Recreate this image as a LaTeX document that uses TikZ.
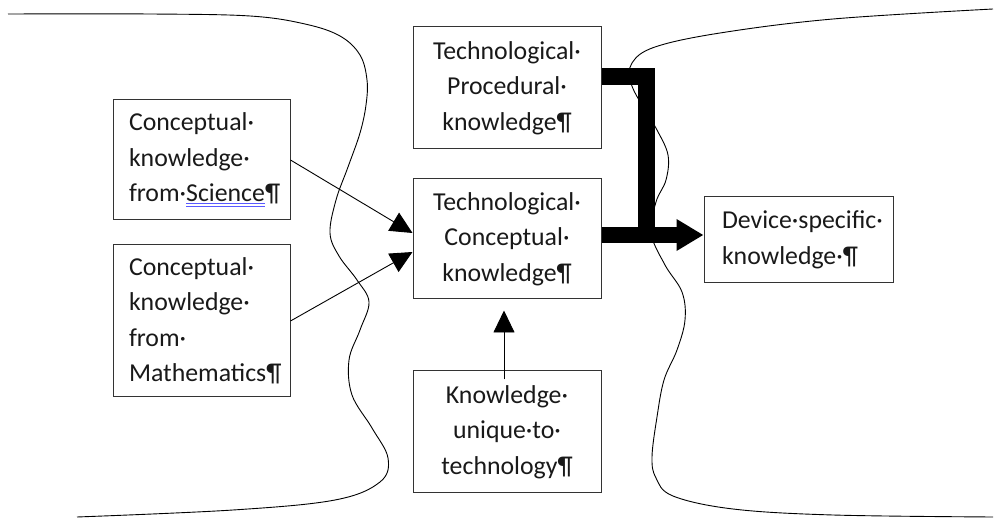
\documentclass[tikz,border=0pt]{standalone}
\usepackage{fontspec}
\setmainfont{Carlito}
\usetikzlibrary{arrows.meta}
\newsavebox\spellbox
\newcommand\spellchk[1]{\sbox\spellbox{#1}\rlap{\color{blue!65}\rule[-2.5pt]{\wd\spellbox}{0.8pt}}\rlap{\color{blue!65}\rule[-5.5pt]{\wd\spellbox}{0.8pt}}\usebox\spellbox}
\begin{document}
\begin{tikzpicture}[x=1pt, y=-1pt, >={Triangle[length=22pt, width=21pt]},
    font=\fontsize{25.8}{35.5}\selectfont,
    box/.style={draw=black!80, line width=1pt, text=black!90, inner xsep=16pt, inner ysep=0pt},
    lbox/.style={box, align=left, text width=#1},
    cbox/.style={box, align=center, minimum width=188pt},
    curve/.style={line width=0.9pt, smooth, tension=0.6},
    bar/.style={line width=17pt}]
\useasboundingbox (0,0) rectangle (994,518);
\draw[curve] plot coordinates {(8,14) (150,14) (250,16) (305,24) (340,36) (360,55) (367,80) (366,105) (360,133) (348,167) (336,200) (330,233) (339,256) (357,280) (369,302) (360,330) (349,360) (352,395) (372,428) (388,458) (380,482) (335,500) (233,510) (77,517)};
\draw[curve] plot coordinates {(993,9) (833,19) (720,33) (655,47) (632,63) (631,83) (643,107) (657,130) (668,155) (666,180) (656,202) (651,233) (665,265) (682,292) (685,320) (677,350) (664,380) (657,417) (652,457) (656,478) (673,496) (733,509) (833,515) (993,517)};

\node[lbox=145pt, minimum height=120pt] (sci) at (201.5,160) {Conceptual·\\knowledge·\\from·\spellchk{Science}¶};
\node[lbox=145pt, minimum height=152pt] (math) at (201.5,321) {Conceptual·\\knowledge·\\from·\\Mathematics¶};
\node[cbox, minimum height=122pt] (proc) at (507,88) {Technological·\\Procedural·\\knowledge¶};
\node[cbox, minimum height=120pt] (conc) at (507,239) {Technological·\\Conceptual·\\knowledge¶};
\node[cbox, minimum height=122pt] (uniq) at (507,432) {Knowledge·\\unique·to·\\technology¶};
\node[lbox=153pt, inner xsep=18pt, minimum height=86pt] (dev) at (798.5,240) {Device·specific·\\knowledge·¶};

\draw[->, line width=0.9pt] (sci.east) -- ([yshift=6pt]conc.west);
\draw[->, line width=0.9pt] (math.east) -- ([yshift=-13pt]conc.west);
\draw[->, line width=0.9pt] ([xshift=-3pt, yshift=-9pt]uniq.north) -- ([xshift=-3pt, yshift=-11pt]conc.south);

\coordinate (joint) at (646,235);
\draw[bar] ([yshift=11pt]proc.east) -| (joint);
\draw[bar, line width=16pt, -{Triangle[length=27pt, width=30pt]}] ([yshift=4pt]conc.east) -- ([yshift=4pt]conc.east -| dev.west);
\end{tikzpicture}
\end{document}
